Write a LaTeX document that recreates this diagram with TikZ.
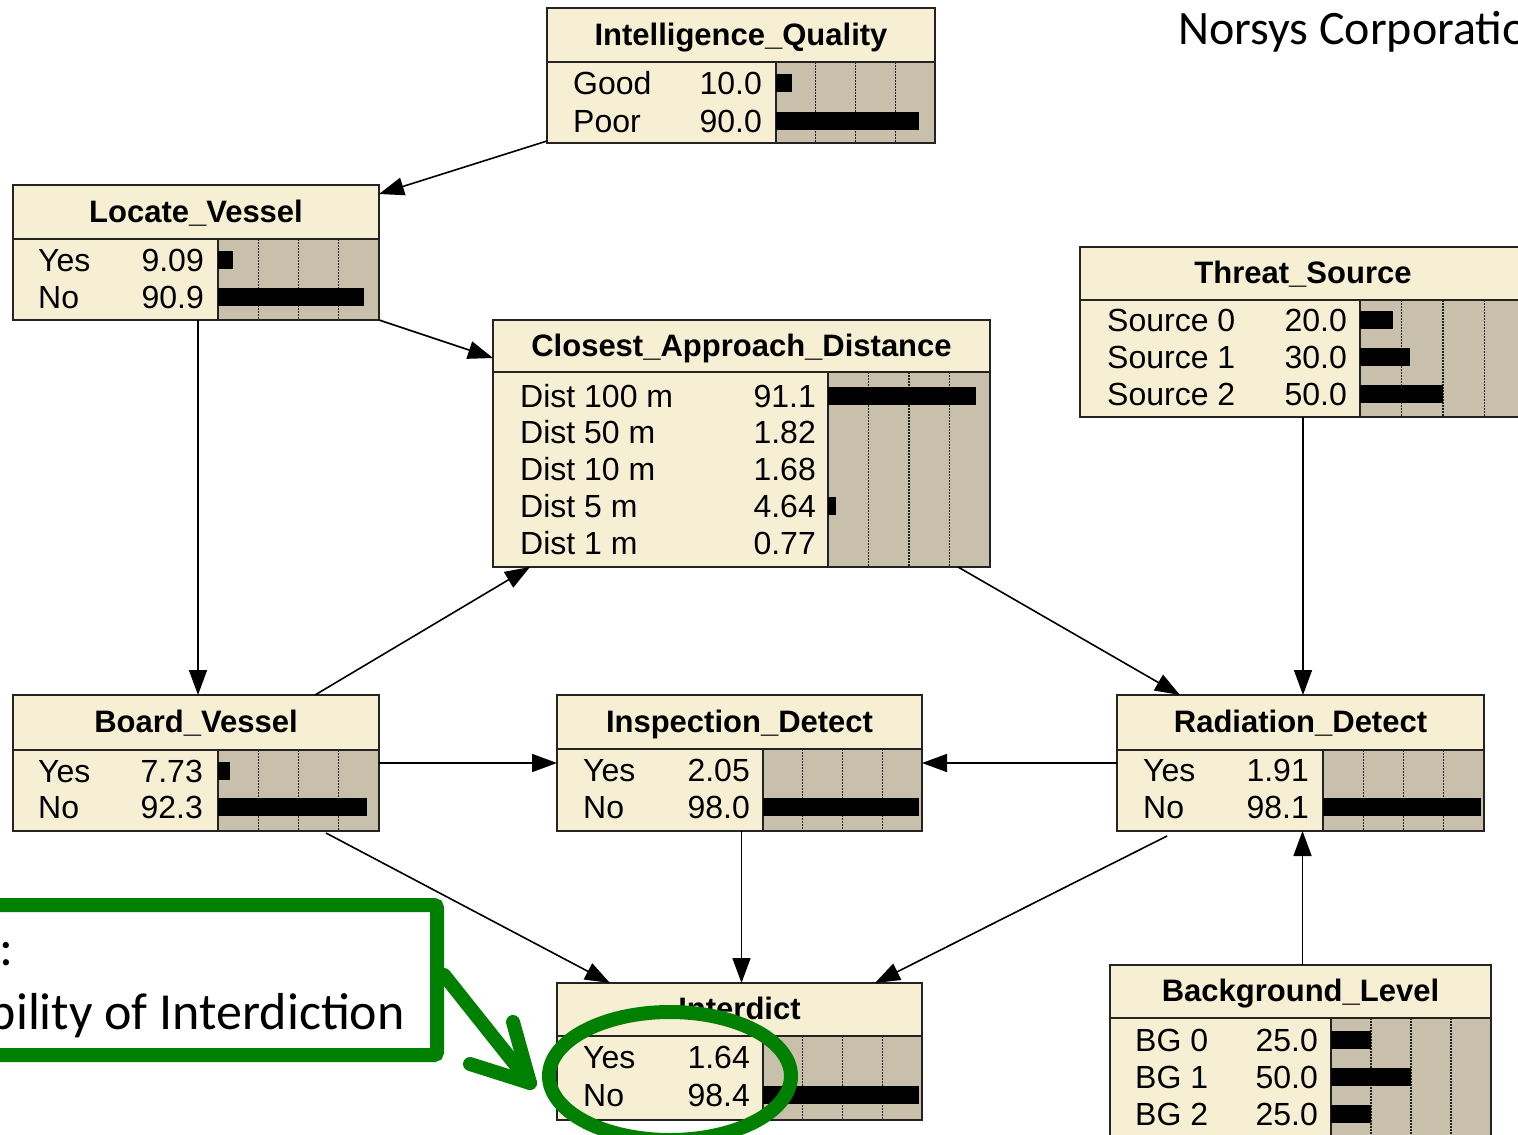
\documentclass[tikz,border=0pt]{standalone}
\usepackage{fontspec}
\setmainfont{Liberation Sans}
\newfontfamily\calibfont{Carlito}
\usetikzlibrary{arrows.meta,shapes.geometric}

\definecolor{nodecream}{RGB}{247,239,212}
\definecolor{bartan}{RGB}{200,192,171}
\definecolor{framegray}{RGB}{35,35,35}
\definecolor{annotgreen}{RGB}{0,128,0}

\tikzset{
  bodyfill/.style={fill=nodecream},
  barfill/.style={fill=bartan},
  gridline/.style={draw=framegray, line width=1.3pt, dash pattern=on 1.6pt off 1.4pt},
  divline/.style={draw=framegray, line width=2.4pt},
  netframe/.style={draw=framegray, line width=2pt, inner sep=0pt, outer sep=0pt, rectangle},
  titletext/.style={font=\fontsize{31}{31}\selectfont\bfseries, inner sep=0pt,
    text height=22pt, text depth=0pt},
  rowtext/.style={font=\fontsize{32}{32}\selectfont, text=black, inner sep=0pt,
    text height=23pt, text depth=0pt},
  link/.style={draw=black, line width=1.6pt, -{Triangle[length=25pt,width=18pt]}},
  annotline/.style={draw=annotgreen, line width=14pt, line cap=round, line join=round},
  annottext/.style={font=\calibfont\fontsize{52}{52}\selectfont, inner sep=0pt},
}

% belief-bar box: name, left, top, right, bottom, title divider y, bar column x, title
\newcommand\netbox[8]{%
  \pgfmathsetmacro\nbW{#4-#2}%
  \pgfmathsetmacro\nbH{#5-#3}%
  \pgfmathsetmacro\nbX{(#2+#4)/2}%
  \pgfmathsetmacro\nbY{(#3+#5)/2}%
  \pgfmathsetmacro\nbT{(#3+#6)/2-1}%
  \pgfmathsetmacro\nbQ{(#4-#7)/4}%
  \fill[bodyfill] (#2,#3) rectangle (#4,#5);
  \fill[barfill] (#7,#6) rectangle (#4,#5);
  \foreach \k in {1,2,3} {\draw[gridline] ({#7+\k*\nbQ},#6) -- ({#7+\k*\nbQ},#5);}
  \draw[divline] (#2,#6) -- (#4,#6);
  \draw[divline] (#7,#6) -- (#7,#5);
  \node[netframe, minimum width=\nbW pt, minimum height=\nbH pt] (#1) at (\nbX,\nbY) {};
  \node[titletext] at (\nbX,\nbT) {#8};
}

% one state row: label x, value right x, y, bar left, bar right, percent, label, value
\newcommand\netrow[8]{%
  \node[rowtext, anchor=west] at (#1,#3) {#7};
  \node[rowtext, anchor=east] at (#2,#3) {#8};
  \ifdim #6pt>3pt
    \fill[black] (#4,#3-9) rectangle ({#4+(#5-#4)*#6/100},#3+9);
  \fi
}

\begin{document}
\begin{tikzpicture}[x=1pt,y=-1pt]
  \clip (0,0) rectangle (1518,1135);
  \fill[white] (0,0) rectangle (1518,1135);

  % --- network nodes ---
  \netbox{iq}{547}{8}{935}{143}{62}{776}{Intelligence\_Quality}
  \netrow{573}{762}{83}{776}{935}{10.0}{Good}{10.0}
  \netrow{573}{762}{121}{776}{935}{90.0}{Poor}{90.0}

  \netbox{lv}{13}{185}{379}{320}{239}{218}{Locate\_Vessel}
  \netrow{38}{204}{260}{218}{379}{9.09}{Yes}{9.09}
  \netrow{38}{204}{297}{218}{379}{90.9}{No}{90.9}

  \netbox{cad}{493}{320}{990}{567}{372}{828}{Closest\_Approach\_Distance}
  \netrow{520}{816}{396}{828}{990}{91.1}{Dist 100 m}{91.1}
  \netrow{520}{816}{432}{828}{990}{1.82}{Dist 50 m}{1.82}
  \netrow{520}{816}{469}{828}{990}{1.68}{Dist 10 m}{1.68}
  \netrow{520}{816}{506}{828}{990}{4.64}{Dist 5 m}{4.64}
  \netrow{520}{816}{543}{828}{990}{0.77}{Dist 1 m}{0.77}

  \netbox{ts}{1080}{247}{1526}{417}{300}{1360}{Threat\_Source}
  \netrow{1107}{1347}{320}{1360}{1526}{20.0}{Source 0}{20.0}
  \netrow{1107}{1347}{357}{1360}{1526}{30.0}{Source 1}{30.0}
  \netrow{1107}{1347}{394}{1360}{1526}{50.0}{Source 2}{50.0}

  \netbox{bv}{13}{695}{379}{831}{750}{218}{Board\_Vessel}
  \netrow{38}{203}{771}{218}{379}{7.73}{Yes}{7.73}
  \netrow{38}{203}{807}{218}{379}{92.3}{No}{92.3}

  \netbox{id}{557}{695}{922}{831}{749}{763}{Inspection\_Detect}
  \netrow{583}{750}{770}{763}{922}{2.05}{Yes}{2.05}
  \netrow{583}{750}{807}{763}{922}{98.0}{No}{98.0}

  \netbox{rd}{1117}{695}{1484}{831}{750}{1323}{Radiation\_Detect}
  \netrow{1143}{1309}{770}{1323}{1484}{1.91}{Yes}{1.91}
  \netrow{1143}{1309}{807}{1323}{1484}{98.1}{No}{98.1}

  \netbox{int}{557}{983}{922}{1120}{1036}{763}{Interdict}
  \netrow{583}{750}{1057}{763}{922}{1.64}{Yes}{1.64}
  \netrow{583}{750}{1095}{763}{922}{98.4}{No}{98.4}

  \netbox{bl}{1110}{965}{1491}{1150}{1018}{1331}{Background\_Level}
  \netrow{1135}{1318}{1040}{1331}{1491}{25.0}{BG 0}{25.0}
  \netrow{1135}{1318}{1077}{1331}{1491}{50.0}{BG 1}{50.0}
  \netrow{1135}{1318}{1114}{1331}{1491}{25.0}{BG 2}{25.0}

  % --- dependency links ---
  \draw[link] ([yshift=2pt]iq.south west) -- ([yshift=-9pt]lv.north east);
  \draw[link] (lv.south east) -- ([yshift=-38pt]cad.north west);
  \draw[link] ([xshift=2pt]lv.south) -- ([xshift=2pt]bv.north);
  \draw[link] ([xshift=119pt]bv.north) -- ([xshift=37pt]cad.south west);
  \draw[link] ([xshift=-32pt]cad.south east) -- ([xshift=63pt]rd.north west);
  \draw[link] (ts.south) -- (ts.south |- rd.north);
  \draw[link] (bv.east) -- (bv.east -| id.west);
  \draw[link] (rd.west) -- (rd.west -| id.east);
  \draw[link] ([xshift=-53pt,yshift=-2pt]bv.south east) -- ([xshift=53pt]int.north west);
  \draw[link] ([xshift=2pt]id.south) -- ([xshift=2pt]int.north);
  \draw[link] ([xshift=50pt,yshift=-5pt]rd.south west) -- ([xshift=-47pt]int.north east);
  \draw[link] ([xshift=2pt]bl.north) -- ([xshift=2pt]rd.south);

  % --- header text ---
  \node[font=\calibfont\fontsize{48}{48}\selectfont, inner sep=0pt, anchor=base west]
    (vendor) at (1178,44) {Norsys Corporation};

  % --- green annotation ---
  \node[draw=annotgreen, line width=14pt, rounded corners=3pt, fill=white,
        minimum width=467pt, minimum height=150pt, inner sep=0pt] (callout) at (203.5,980) {};
  \node[annottext, anchor=base west] (calloutcolon) at (-1,965) {:};
  \node[annottext, anchor=base east] (callouttext) at (405,1029) {Probability of Interdiction};

  \node[ellipse, draw=annotgreen, line width=14pt, minimum width=242pt, minimum height=128pt,
        inner sep=0pt] (focus) at (670,1076) {};

  \coordinate (tip) at ([xshift=-12pt,yshift=-7pt]focus.west);
  \draw[annotline] ([yshift=5pt]callout.east) -- (tip);
  \draw[annotline] ([shift={(-17,-61)}]tip) -- (tip) -- ([shift={(-60,-19)}]tip);
\end{tikzpicture}
\end{document}
